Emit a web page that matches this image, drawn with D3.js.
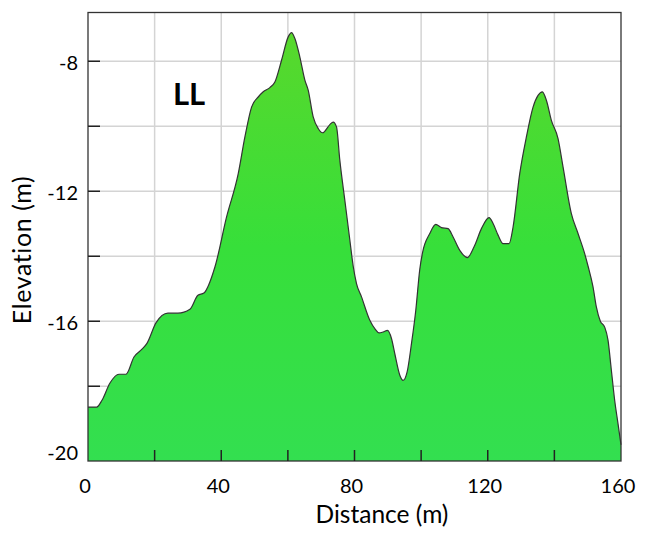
<!DOCTYPE html>
<meta charset="utf-8">
<style>

body {
  margin: 0;
  background: #fff;
}

text {
  font-family: Lato, "Open Sans", sans-serif;
  fill: #000;
}

.grid line {
  stroke: #d4d4d4;
  stroke-width: 1.5px;
}

</style>
<svg></svg>
<script src="https://d3js.org/d3.v7.min.js"></script>
<script>

var width = 647,
    height = 535;

var margin = {top: 12.5, right: 26, bottom: 74, left: 88};

// profile: distance (m) / elevation (m)
var distance = [0, 2.6, 4.2, 6.6, 9.3, 11.4, 13.8, 16.2, 17.7, 20.4, 24.0, 27.0, 30.6, 33.0, 34.8, 38.1,
    41.6, 45.1, 47.1, 49.1, 51.1, 52.6, 54.6, 56.1, 58.1, 60.1, 61.1, 62.1, 63.6, 65.1, 66.1, 67.6,
    69.1, 70.4, 72.6, 73.6, 74.6, 75.6, 77.1, 78.6, 79.6, 80.6, 82.1, 84.6, 86.1, 87.4, 88.6, 89.9,
    91.1, 92.1, 93.6, 94.6, 95.8, 97.1, 98.4, 99.6, 100.4, 102.6, 104.4, 106.1, 108.1, 109.6, 111.6,
    113.9, 116.1, 118.1, 120.4, 121.6, 123.1, 124.6, 126.4, 127.6, 129.6, 131.6, 133.6, 135.1, 136.4,
    137.6, 139.1, 141.1, 142.6, 145.1, 147.1, 149.1, 150.1, 151.6, 152.6, 153.8, 155.1, 156.1, 157.1,
    158.1, 159.1, 160];

var elevation = [-18.64, -18.64, -18.43, -17.9, -17.63, -17.63, -17.1, -16.86, -16.68, -16.05, -15.75, -15.75, -15.63, -15.2, -15.13, -14.33,
    -12.79, -11.46, -10.33, -9.41, -9.1, -8.94, -8.81, -8.64, -7.97, -7.25, -7.12, -7.3, -7.87, -8.58, -8.89, -9.71,
    -10.07, -10.2, -9.95, -9.87, -10.02, -11.05, -12.28, -13.5, -14.3, -14.84, -15.25, -15.97, -16.23, -16.36, -16.33, -16.28,
    -16.53, -17.0, -17.66, -17.82, -17.56, -16.69, -15.66, -14.4, -13.9, -13.3, -13.02, -13.12, -13.15, -13.41, -13.82,
    -14.04, -13.66, -13.15, -12.81, -12.99, -13.35, -13.61, -13.61, -13.1, -11.46, -10.33, -9.41, -9.05, -8.94,
    -9.2, -9.82, -10.38, -11.25, -12.69, -13.3, -13.92, -14.3, -14.94, -15.56, -16.0, -16.18, -16.58, -17.5,
    -18.43, -19.15, -19.8];

var xTicks = [0, 20, 40, 60, 80, 100, 120, 140, 160],
    xLabels = [0, 40, 80, 120, 160];

var yTicks = [-20, -18, -16, -14, -12, -10, -8],
    yLabels = [-20, -16, -12, -8];

var profile = distance.map(function(d, i) { return {d: d, e: elevation[i]}; });

var svg = d3.select("svg")
    .attr("width", width)
    .attr("height", height);

var x = d3.scaleLinear()
    .domain([0, 160])
    .range([margin.left, width - margin.right]);

var y = d3.scaleLinear()
    .domain([-20.3, -6.5])
    .range([height - margin.bottom, margin.top]);

var defs = svg.append("defs");

var grad = defs.append("linearGradient")
    .attr("id", "fill")
    .attr("gradientUnits", "userSpaceOnUse")
    .attr("x1", 0).attr("x2", 0)
    .attr("y1", y(-7.1)).attr("y2", y(-20.3));

grad.append("stop").attr("offset", 0).attr("stop-color", "#58d82c");
grad.append("stop").attr("offset", 0.5).attr("stop-color", "#37df3a");
grad.append("stop").attr("offset", 1).attr("stop-color", "#33df50");

// grid
var grid = svg.append("g").attr("class", "grid");

grid.selectAll(".gx")
    .data(xTicks.slice(1, -1))
    .enter().append("line")
    .attr("x1", function(d) { return x(d); })
    .attr("x2", function(d) { return x(d); })
    .attr("y1", y.range()[1])
    .attr("y2", y.range()[0]);

grid.selectAll(".gy")
    .data(yTicks.slice(1))
    .enter().append("line")
    .attr("x1", x.range()[0])
    .attr("x2", x.range()[1])
    .attr("y1", function(d) { return y(d); })
    .attr("y2", function(d) { return y(d); });

var area = d3.area()
    .x(function(d) { return x(d.d); })
    .y0(y.range()[0])
    .y1(function(d) { return y(d.e); })
    .curve(d3.curveMonotoneX);

var line = d3.line()
    .x(function(d) { return x(d.d); })
    .y(function(d) { return y(d.e); })
    .curve(d3.curveMonotoneX);

svg.append("path")
    .datum(profile)
    .attr("d", area)
    .attr("fill", "url(#fill)");

svg.append("path")
    .datum(profile)
    .attr("d", line)
    .attr("fill", "none")
    .attr("stroke", "#333")
    .attr("stroke-width", 1.2);

// frame
svg.append("rect")
    .attr("x", x.range()[0])
    .attr("y", y.range()[1])
    .attr("width", x.range()[1] - x.range()[0])
    .attr("height", y.range()[0] - y.range()[1])
    .attr("fill", "none")
    .attr("stroke", "#333")
    .attr("stroke-width", 1.3);

// inward ticks
svg.append("g")
    .selectAll("line")
    .data(xTicks.slice(1, -1))
    .enter().append("line")
    .attr("x1", function(d) { return x(d); })
    .attr("x2", function(d) { return x(d); })
    .attr("y1", y.range()[0])
    .attr("y2", y.range()[0] - 11)
    .attr("stroke", "#222")
    .attr("stroke-width", 1.5);

svg.append("g")
    .selectAll("line")
    .data(yTicks.slice(1))
    .enter().append("line")
    .attr("x1", x.range()[0])
    .attr("x2", x.range()[0] + 12)
    .attr("y1", function(d) { return y(d); })
    .attr("y2", function(d) { return y(d); })
    .attr("stroke", "#222")
    .attr("stroke-width", 1.5);

// tick labels
svg.append("g")
    .selectAll("text")
    .data(xLabels)
    .enter().append("text")
    .attr("x", function(d) { return x(d) - 3; })
    .attr("y", 493)
    .attr("text-anchor", "middle")
    .style("font-size", "20px")
    .text(function(d) { return d; });

svg.append("g")
    .selectAll("text")
    .data(yLabels)
    .enter().append("text")
    .attr("x", 78)
    .attr("y", function(d) { return y(d) + 9; })
    .attr("text-anchor", "end")
    .style("font-size", "20px")
    .text(function(d) { return d; });

// axis titles
svg.append("text")
    .attr("x", 382)
    .attr("y", 523)
    .attr("text-anchor", "middle")
    .style("font-size", "24.5px")
    .text("Distance (m)");

svg.append("text")
    .attr("transform", "translate(31,250) rotate(-90)")
    .attr("text-anchor", "middle")
    .style("font-size", "25px")
    .style("letter-spacing", "0.6px")
    .text("Elevation (m)");

svg.append("text")
    .attr("x", 173)
    .attr("y", 105)
    .style("font-size", "31px")
    .style("font-weight", "bold")
    .text("LL");

</script>
